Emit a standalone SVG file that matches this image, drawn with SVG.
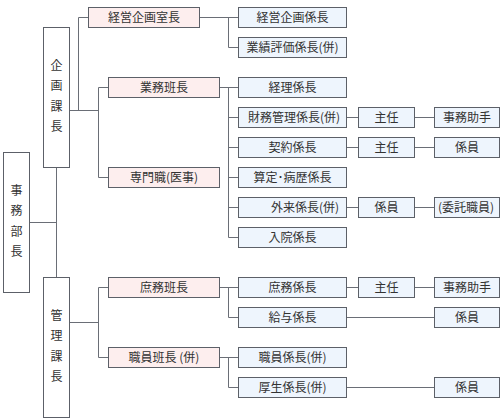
<svg xmlns="http://www.w3.org/2000/svg" width="500" height="420" viewBox="0 0 500 420">
<style>
text{font-family:"Noto Sans CJK JP","Noto Sans CJK SC",sans-serif;font-size:12px;fill:#333;text-anchor:middle}
.w{fill:#fff;stroke:#5c6068;stroke-width:1}
.p{fill:#fdeeee;stroke:#5c6068;stroke-width:1}
.b{fill:#eef5fd;stroke:#5c6068;stroke-width:1}
.c path{fill:none;stroke:#6a6e76;stroke-width:1}
</style>
<rect width="500" height="420" fill="#fff"/>
<g class="c" id="connectors">
<path d="M29.5 222.5H56.5M56.5 167.5V277.5"/>
<path d="M69.5 110.5H98.5M78.5 110.5V17.5H88.5M98.5 87.5V177.5M98.5 87.5H108.5M98.5 177.5H108.5"/>
<path d="M69.5 322.5H98.5M98.5 287.5V357.5M98.5 287.5H108.5M98.5 357.5H108.5"/>
<path d="M199.5 17.5H238.5M228.5 17.5V47.5H238.5"/>
<path d="M219.5 87.5H238.5M228.5 87.5V237.5M228.5 117.5H238.5M228.5 147.5H238.5M228.5 177.5H238.5M228.5 207.5H238.5M228.5 237.5H238.5"/>
<path d="M219.5 287.5H238.5M228.5 287.5V317.5H238.5"/>
<path d="M219.5 357.5H238.5M228.5 357.5V387.5H238.5"/>
<path d="M346.5 117.5H358.5M414.5 117.5H434.5"/>
<path d="M346.5 147.5H358.5M414.5 147.5H434.5"/>
<path d="M346.5 207.5H358.5M414.5 207.5H434.5"/>
<path d="M346.5 287.5H358.5M414.5 287.5H434.5"/>
<path d="M346.5 317.5H434.5"/>
<path d="M346.5 387.5H434.5"/>
</g>
<g id="jimubucho"><rect class="w" x="3.5" y="152.5" width="26" height="140"/>
<text x="16.5" y="194.5">事</text><text x="16.5" y="215">務</text><text x="16.5" y="235.5">部</text><text x="16.5" y="256">長</text></g>
<g id="kikakukacho"><rect class="w" x="43.5" y="27.5" width="26" height="140"/>
<text x="56.5" y="69.5">企</text><text x="56.5" y="90">画</text><text x="56.5" y="110.5">課</text><text x="56.5" y="131">長</text></g>
<g id="kanrikacho"><rect class="w" x="43.5" y="277.5" width="26" height="140"/>
<text x="56.5" y="319.5">管</text><text x="56.5" y="340">理</text><text x="56.5" y="360.5">課</text><text x="56.5" y="381">長</text></g>
<g id="keieikikakushitsucho"><rect class="p" x="88.5" y="7.5" width="111" height="20"/><text x="144" y="21.5">経営企画室長</text></g>
<g id="gyomuhancho"><rect class="p" x="108.5" y="77.5" width="111" height="20"/><text x="164" y="91.5">業務班長</text></g>
<g id="senmonshoku"><rect class="p" x="108.5" y="167.5" width="111" height="20"/><text x="164" y="181.5">専門職(医事)</text></g>
<g id="shomuhancho"><rect class="p" x="108.5" y="277.5" width="111" height="20"/><text x="164" y="291.5">庶務班長</text></g>
<g id="shokuinhancho"><rect class="p" x="108.5" y="347.5" width="111" height="20"/><text x="164" y="361.5">職員班長 (併)</text></g>
<g id="keieikikakukakaricho"><rect class="b" x="238.5" y="7.5" width="108" height="20"/><text x="292.5" y="21.5">経営企画係長</text></g>
<g id="gyosekihyoka"><rect class="b" x="238.5" y="37.5" width="108" height="20"/><text x="292.5" y="51.5">業績評価係長(併)</text></g>
<g id="keiri"><rect class="b" x="238.5" y="77.5" width="108" height="20"/><text x="292.5" y="91.5">経理係長</text></g>
<g id="zaimukanri"><rect class="b" x="238.5" y="107.5" width="108" height="20"/><text x="294" y="121.5">財務管理係長(併)</text></g>
<g id="keiyaku"><rect class="b" x="238.5" y="137.5" width="108" height="20"/><text x="292.5" y="151.5">契約係長</text></g>
<g id="santei"><rect class="b" x="238.5" y="167.5" width="108" height="20"/><text x="292.5" y="181.5">算定･病歴係長</text></g>
<g id="gairai"><rect class="b" x="238.5" y="197.5" width="108" height="20"/><text x="305" y="211.5">外来係長(併)</text></g>
<g id="nyuin"><rect class="b" x="238.5" y="227.5" width="108" height="20"/><text x="292.5" y="241.5">入院係長</text></g>
<g id="shomukakaricho"><rect class="b" x="238.5" y="277.5" width="108" height="20"/><text x="292.5" y="291.5">庶務係長</text></g>
<g id="kyuyo"><rect class="b" x="238.5" y="307.5" width="108" height="20"/><text x="292.5" y="321.5">給与係長</text></g>
<g id="shokuinkakaricho"><rect class="b" x="238.5" y="347.5" width="108" height="20"/><text x="292.5" y="361.5">職員係長(併)</text></g>
<g id="kosei"><rect class="b" x="238.5" y="377.5" width="108" height="20"/><text x="292.5" y="391.5">厚生係長(併)</text></g>
<g id="shunin1"><rect class="b" x="358.5" y="107.5" width="56" height="20"/><text x="386.5" y="121.5">主任</text></g>
<g id="shunin2"><rect class="b" x="358.5" y="137.5" width="56" height="20"/><text x="386.5" y="151.5">主任</text></g>
<g id="kakariin1"><rect class="b" x="358.5" y="197.5" width="56" height="20"/><text x="386.5" y="211.5">係員</text></g>
<g id="shunin3"><rect class="b" x="358.5" y="277.5" width="56" height="20"/><text x="386.5" y="291.5">主任</text></g>
<g id="jimujoshu1"><rect class="b" x="434.5" y="107.5" width="65" height="20"/><text x="467" y="121.5">事務助手</text></g>
<g id="kakariin2"><rect class="b" x="434.5" y="137.5" width="65" height="20"/><text x="467" y="151.5">係員</text></g>
<g id="itaku"><rect class="b" x="434.5" y="197.5" width="65" height="20"/><text x="466" y="211.5">(委託職員)</text></g>
<g id="jimujoshu2"><rect class="b" x="434.5" y="277.5" width="65" height="20"/><text x="467" y="291.5">事務助手</text></g>
<g id="kakariin3"><rect class="b" x="434.5" y="307.5" width="65" height="20"/><text x="467" y="321.5">係員</text></g>
<g id="kakariin4"><rect class="b" x="434.5" y="377.5" width="65" height="20"/><text x="467" y="391.5">係員</text></g>
</svg>
